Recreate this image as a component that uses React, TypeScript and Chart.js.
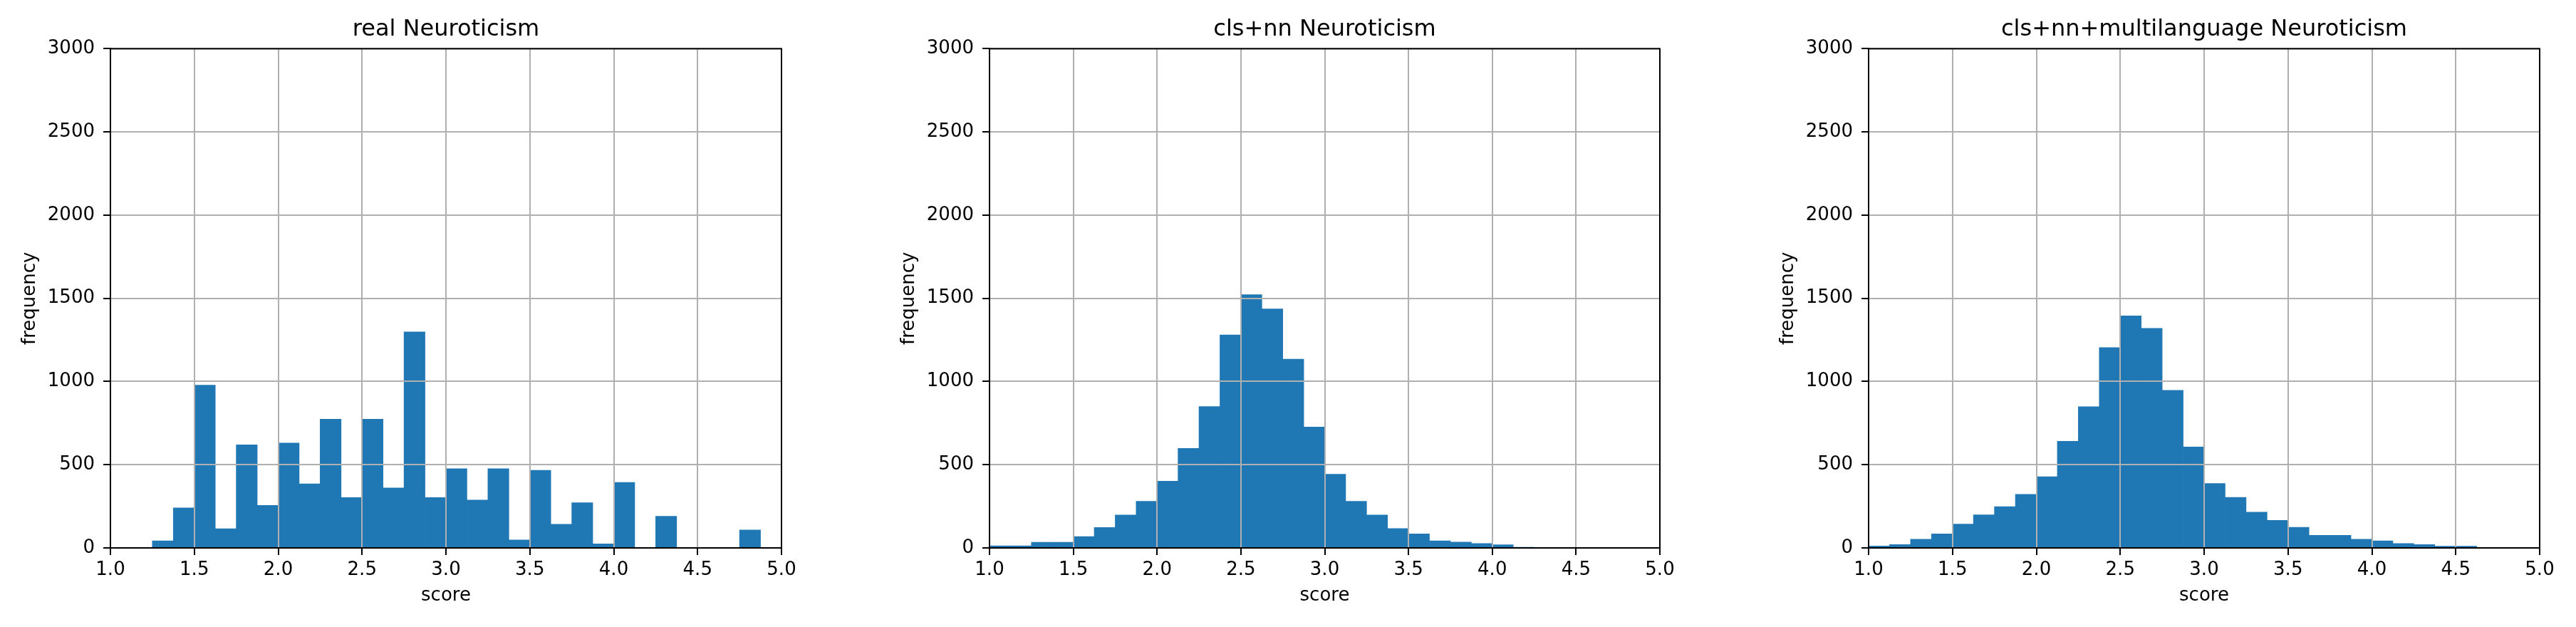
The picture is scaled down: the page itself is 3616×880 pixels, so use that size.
import React, { useEffect, useRef } from "react";
import { Chart, registerables } from "chart.js";

Chart.register(...registerables);

// Histogram bins (width 0.125 from 1.0 to 5.0), given by bin centres
const binCenters = [
  1.0625, 1.1875, 1.3125, 1.4375, 1.5625, 1.6875, 1.8125, 1.9375,
  2.0625, 2.1875, 2.3125, 2.4375, 2.5625, 2.6875, 2.8125, 2.9375,
  3.0625, 3.1875, 3.3125, 3.4375, 3.5625, 3.6875, 3.8125, 3.9375,
  4.0625, 4.1875, 4.3125, 4.4375, 4.5625, 4.6875, 4.8125, 4.9375,
];

const realCounts = [
  0, 0, 43, 240, 978, 115, 620, 255,
  630, 385, 774, 303, 774, 360, 1298, 303,
  476, 288, 476, 48, 466, 142, 272, 24,
  394, 0, 190, 0, 0, 0, 108, 0,
];

const clsNnCounts = [
  12, 12, 34, 34, 68, 123, 198, 280,
  401, 598, 850, 1280, 1522, 1436, 1134, 727,
  443, 280, 198, 116, 84, 43, 35, 26,
  19, 2, 0, 0, 0, 0, 0, 0,
];

const clsNnMultiCounts = [
  11, 20, 52, 84, 143, 199, 248, 322,
  428, 641, 849, 1204, 1394, 1320, 947, 607,
  387, 304, 215, 166, 124, 76, 76, 52,
  42, 26, 20, 10, 10, 0, 0, 0,
];

const xTickValues = [1.0, 1.5, 2.0, 2.5, 3.0, 3.5, 4.0, 4.5, 5.0];
const xTickLabels = ["1.0", "1.5", "2.0", "2.5", "3.0", "3.5", "4.0", "4.5", "5.0"];
const yTickValues = [0, 500, 1000, 1500, 2000, 2500, 3000];
const yTickLabels = ["0", "500", "1000", "1500", "2000", "2500", "3000"];

const panelTitles = [
  "real Neuroticism",
  "cls+nn Neuroticism",
  "cls+nn+multilanguage Neuroticism",
];
const panelCounts = [realCounts, clsNnCounts, clsNnMultiCounts];

const xAxisLabel = "score";
const yAxisLabel = "frequency";

const FONT = "'DejaVu Sans', 'Liberation Sans', sans-serif";
const BAR_COLOR = "#1f77b4";
const GRID_COLOR = "#b0b0b0";

// layout of the three canvases: [left, width, rightPadding]
const panelLayout = [
  [0, 1234, 137],
  [1234, 1234, 138],
  [2468, 1148, 51],
];

const boxPlugin = {
  id: "axesBox",
  afterDraw(chart: any) {
    const { ctx, chartArea: a } = chart;
    ctx.save();
    ctx.strokeStyle = "#000";
    ctx.lineWidth = 2;
    ctx.strokeRect(a.left, a.top, a.right - a.left, a.bottom - a.top);
    ctx.restore();
  },
};

function Panel({ index }: { index: number }) {
  const ref = useRef<HTMLCanvasElement | null>(null);
  const [left, width, rightPad] = panelLayout[index];

  useEffect(() => {
    if (!ref.current) return;
    const counts = panelCounts[index];
    const tickFont = { family: FONT, size: 26, weight: "normal" as const, lineHeight: 1.2 };
    const chart = new Chart(ref.current, {
      type: "bar",
      data: {
        datasets: [
          {
            data: binCenters.map((x, i) => ({ x, y: counts[i] })),
            backgroundColor: BAR_COLOR,
            borderWidth: 0,
            barPercentage: 1,
            categoryPercentage: 1,
            grouped: false,
          } as any,
        ],
      },
      options: {
        responsive: false,
        animation: false,
        devicePixelRatio: 1,
        layout: { padding: { left: 0, right: rightPad, top: 0, bottom: 0 } },
        plugins: {
          legend: { display: false },
          tooltip: { enabled: false },
          title: {
            display: true,
            text: panelTitles[index],
            fullSize: false,
            color: "#000",
            font: { family: FONT, size: 32, weight: "normal", lineHeight: 1.2 },
            padding: { top: 22, bottom: 8 },
          },
        },
        scales: {
          x: {
            type: "linear",
            min: 1,
            max: 5,
            offset: false,
            afterBuildTicks: (s: any) => {
              s.ticks = xTickValues.map((v) => ({ value: v }));
            },
            afterFit: (s: any) => {
              s.height = 111;
            },
            ticks: {
              callback: (v: any) => {
                const i = xTickValues.indexOf(Number(v));
                return i >= 0 ? xTickLabels[i] : "";
              },
              color: "#000",
              font: tickFont,
              padding: 6,
              maxRotation: 0,
              autoSkip: false,
            },
            grid: {
              color: GRID_COLOR,
              lineWidth: 2,
              tickColor: "#000",
              tickLength: 10,
              tickWidth: 2,
              offset: false,
              z: 1,
            },
            border: { display: true, color: "#000", width: 2, z: 1 },
            title: {
              display: true,
              text: xAxisLabel,
              color: "#000",
              font: tickFont,
              padding: { top: 0, bottom: 28.6 },
            },
          } as any,
          y: {
            type: "linear",
            min: 0,
            max: 3000,
            afterBuildTicks: (s: any) => {
              s.ticks = yTickValues.map((v) => ({ value: v }));
            },
            afterFit: (s: any) => {
              s.width = 155;
            },
            ticks: {
              callback: (v: any) => {
                const i = yTickValues.indexOf(Number(v));
                return i >= 0 ? yTickLabels[i] : "";
              },
              color: "#000",
              font: tickFont,
              padding: 12,
              autoSkip: false,
            },
            grid: {
              color: GRID_COLOR,
              lineWidth: 2,
              tickColor: "#000",
              tickLength: 10,
              tickWidth: 2,
              z: 1,
            },
            border: { display: true, color: "#000", width: 2, z: 1 },
            title: {
              display: true,
              text: yAxisLabel,
              color: "#000",
              font: tickFont,
              padding: { top: 26.7, bottom: 0 },
            },
          } as any,
        },
      },
      plugins: [boxPlugin],
    });
    return () => chart.destroy();
  }, [index]);

  return (
    <canvas
      ref={ref}
      width={width}
      height={880}
      style={{ position: "absolute", left, top: 0, width, height: 880, display: "block" }}
    />
  );
}

export default function App() {
  return (
    <div
      style={{
        position: "absolute",
        left: 0,
        top: 0,
        width: 3616,
        height: 880,
        background: "#fff",
        overflow: "hidden",
      }}
    >
      {panelTitles.map((_, i) => (
        <Panel key={i} index={i} />
      ))}
    </div>
  );
}
